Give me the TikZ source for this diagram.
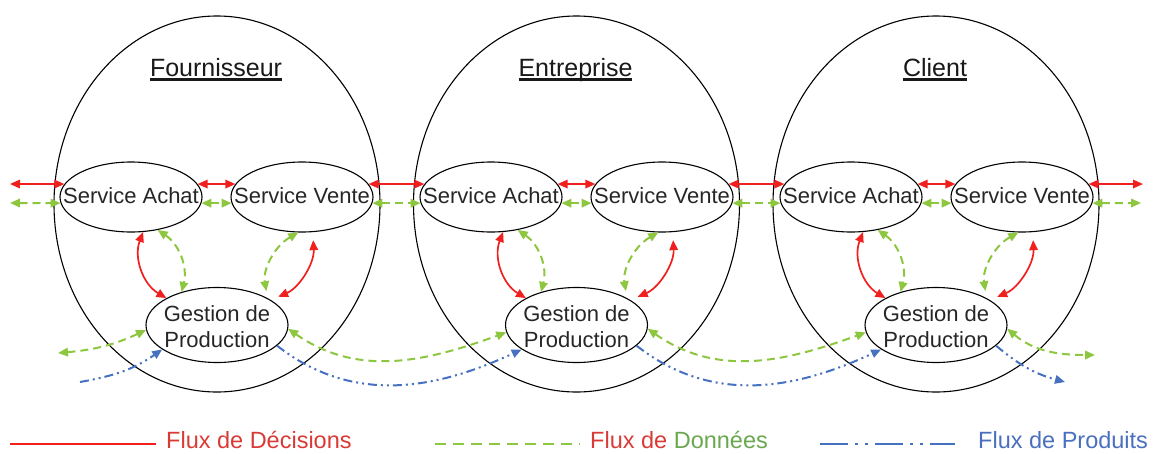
\documentclass[tikz,border=0pt]{standalone}
\usepackage{fontspec}
\setmainfont{Liberation Sans}
\usetikzlibrary{shapes.geometric,arrows.meta}
\definecolor{fred}{HTML}{F0201E}
\definecolor{fgreen}{HTML}{8DC63F}
\definecolor{fblue}{HTML}{4670C0}
\definecolor{tred}{HTML}{D93A35}
\definecolor{tgreen}{HTML}{6AA84F}
\definecolor{tblue}{HTML}{4A6FBF}
\newcommand{\myul}[1]{\setbox0=\hbox{#1}\rlap{\rule[-5pt]{\wd0}{2.8pt}}\box0}
\tikzset{
  outerbox/.style={draw, ellipse, line width=1.1pt, minimum width=326pt, minimum height=376pt, inner sep=0pt},
  svc/.style={draw, ellipse, line width=1.1pt, minimum width=142pt, minimum height=70pt, inner sep=0pt,
              font=\fontsize{22}{26}\selectfont, text=black!85},
  gest/.style={svc, minimum height=75pt},
  ttl/.style={font=\fontsize{25}{30}\selectfont, anchor=base, inner sep=0pt, text=black!90},
  dec/.style={draw=fred, line width=1.7pt},
  dat/.style={draw=fgreen, line width=2pt, dash pattern=on 8pt off 5pt},
  prd/.style={draw=fblue, line width=2pt, dash pattern=on 9pt off 4pt on 2pt off 4pt on 2pt off 4pt},
  legtext/.style={font=\fontsize{23.5}{28}\selectfont, anchor=base west, inner sep=0pt}
}
\begin{document}
\begin{tikzpicture}[x=1pt,y=1pt, >={Triangle[length=10pt,width=8.5pt]}]
\useasboundingbox (0,0) rectangle (1153,-453);
\foreach \i/\nm in {0/Fournisseur,1/Entreprise,2/Client}{
  \node[outerbox] (o\i) at (217+359.5*\i,-204) {};
  \node[ttl] (t\i) at (216+359.5*\i,-76) {\myul{\nm}};
  \node[svc] (a\i) at (131+360*\i,-197) {\makebox[0pt]{\raisebox{-6pt}[0pt][0pt]{Service Achat}}};
  \node[svc] (v\i) at (302+360*\i,-197) {\makebox[0pt]{\raisebox{-6pt}[0pt][0pt]{Service Vente}}};
  \node[gest] (g\i) at (217+359.5*\i,-325) {\makebox[0pt]{\raisebox{-9pt}[0pt][0pt]{\begin{tabular}{@{}c@{}}Gestion de\\Production\end{tabular}}}};
  \draw[dec,<->] (a\i.11) -- (v\i.169);
  \draw[dat,<->] (a\i.-5) -- (v\i.185);
  \draw[dec,<->] (a\i.-71) to[bend right=40] (g\i.152);
  \draw[dat,<->] (a\i.-51) to[bend left=35] (g\i.137);
  \draw[dat,<->,shorten >=7pt] (v\i.-96) to[bend right=35] (g\i.28);
  \draw[dec,<->,shorten <=8pt,shorten >=8pt] (v\i.-73) to[bend left=35] (g\i.25);
}
\foreach \i/\j in {0/1,1/2}{
  \draw[dec,<->] (v\i.11) -- (a\j.169);
  \draw[dat,<->] (v\i.-5) -- (a\j.185);
  \draw[dat,<->] (g\i.-3) to[out=-35,in=200] (g\j.186);
  \draw[prd,->] (g\i.-19) to[out=-38,in=205] (g\j.204);
}
% free ends
\coordinate (rl) at (10,-184);
\coordinate (gl) at (10,-203);
\coordinate (rr) at (1143,-184);
\coordinate (gr) at (1141,-203);
\draw[dec,<->] (rl) -- (a0.169);
\draw[dat,<->] (gl) -- (a0.185);
\draw[dec,<->] (v2.11) -- (rr);
\draw[dat,<->] (v2.-5) -- (gr);
\coordinate (gbl) at (58,-353);
\coordinate (bbl) at (80,-382);
\coordinate (gbr) at (1095,-355);
\coordinate (bbr) at (1065,-382);
\draw[dat,<->] (gbl) to[out=5,in=205] (g0.184);
\draw[prd,->] (bbl) to[out=10,in=215] (g0.204);
\draw[dat,<->] (g2.-3) to[out=-40,in=180] (gbr);
\draw[prd,->] (g2.-19) to[out=-40,in=165] (bbr);
% legend
\coordinate (l1a) at (10,-444); \coordinate (l1b) at (156,-444);
\coordinate (l2a) at (435,-444); \coordinate (l2b) at (580,-444);
\coordinate (l3a) at (820,-444); \coordinate (l3b) at (955,-444);
\draw[fred, line width=2.8pt] (l1a) -- (l1b);
\draw[fgreen, line width=2.8pt, dash pattern=on 11pt off 7pt] (l2a) -- (l2b);
\draw[fblue, line width=2.8pt, dash pattern=on 28pt off 7pt on 3pt off 7pt on 3pt off 7pt] (l3a) -- (l3b);
\node[legtext, text=tred] (lt1) at (166,-448) {Flux de Décisions};
\node[legtext] (lt2) at (590,-448) {\textcolor{tred}{Flux de} \textcolor{tgreen}{Données}};
\node[legtext, text=tblue] (lt3) at (978,-448) {Flux de Produits};
\end{tikzpicture}
\end{document}
